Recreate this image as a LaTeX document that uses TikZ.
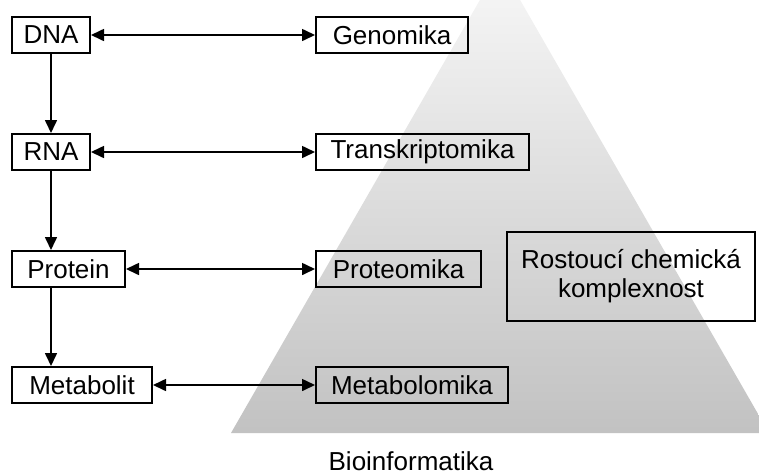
\documentclass[tikz,border=0pt]{standalone}
\usepackage{fontspec}
\setmainfont{Liberation Sans}
\usetikzlibrary{arrows.meta}
\begin{document}
\begin{tikzpicture}[x=1pt,y=-1pt,
  box/.style={draw=black, line width=2pt, inner sep=0pt, minimum height=36pt,
    font=\fontsize{26}{29}\selectfont},
  conn/.style={line width=1.6pt, -{Triangle[length=13pt,width=12pt]}},
  biconn/.style={line width=1.6pt, {Triangle[length=13pt,width=12pt]}-{Triangle[length=13pt,width=12pt]}}]
\useasboundingbox (0,0) rectangle (759,475);
\begin{scope}
  \clip (0,0) rectangle (759,475);
  \shade[top color=black!3, middle color=black!17, bottom color=black!24, shading angle=0]
    (500,-35) -- (769,433) -- (231,433) -- cycle;
\end{scope}
\node[box, minimum width=78pt] (dna) at (51,35) {DNA};
\node[box, minimum width=152pt] (gen) at (392,35) {Genomika};
\node[box, minimum width=78pt] (rna) at (51,152) {RNA};
\node[box, minimum width=213pt] (tra) at (422.5,152) {Transkriptomika};
\node[box, minimum width=113pt] (prot) at (68.5,269) {Protein};
\node[box, minimum width=165pt] (prom) at (398.5,269) {Proteomika};
\node[box, minimum width=140pt] (met) at (82,385) {Metabolit};
\node[box, minimum width=192pt] (metm) at (412,385) {Metabolomika};
\node[box, minimum width=248pt, minimum height=89pt, align=center] (ros) at (631,276.5)
  {Rostoucí chemická\\komplexnost};
\node[font=\fontsize{26}{29}\selectfont, anchor=base, inner sep=0pt] (bio) at (411,470) {Bioinformatika};
\draw[biconn] (dna.east) -- (gen.west);
\draw[biconn] (rna.east) -- (tra.west);
\draw[biconn] (prot.east) -- (prom.west);
\draw[biconn] (met.east) -- (metm.west);
\draw[conn] (dna.south) -- (rna.north);
\draw[conn] (rna.south) -- (rna.south |- prot.north);
\draw[conn] (rna.south |- prot.south) -- (rna.south |- met.north);
\end{tikzpicture}
\end{document}
